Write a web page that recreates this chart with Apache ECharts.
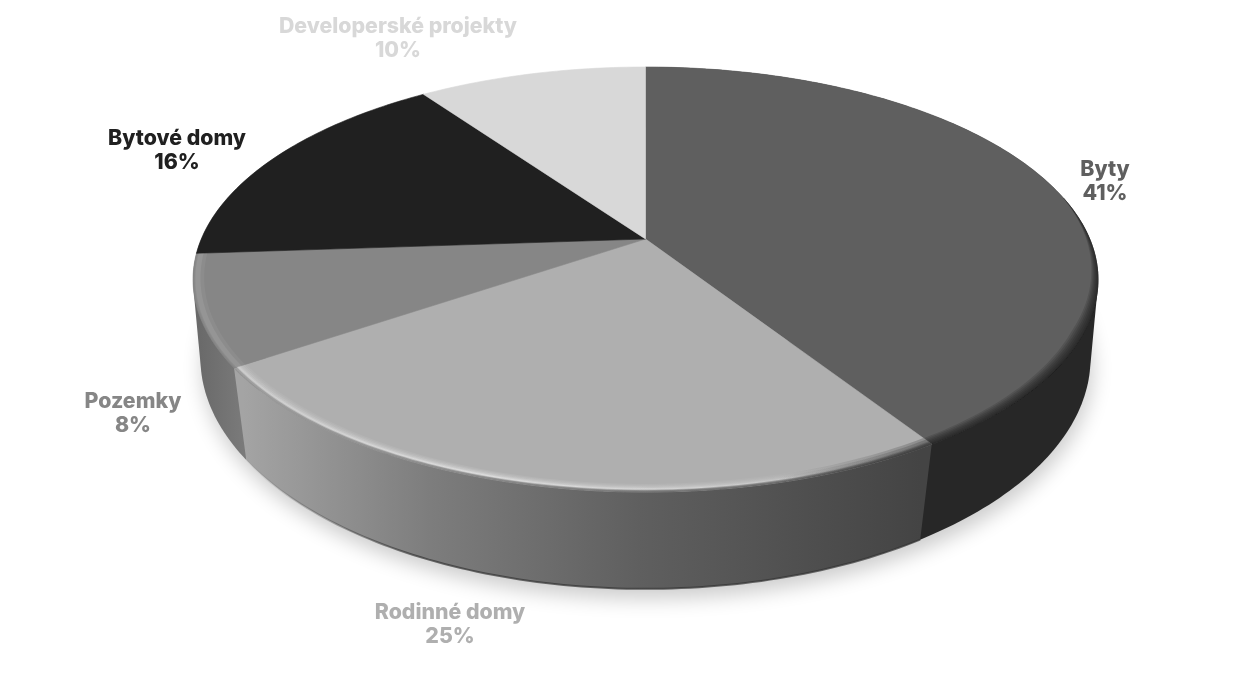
<!DOCTYPE html>
<html>
<head>
<meta charset="utf-8">
<style>html,body{margin:0;padding:0;background:#fff}#c{width:1242px;height:676px}</style>
<script src="https://cdn.jsdelivr.net/npm/echarts@6/dist/echarts.min.js"></script>
</head>
<body>
<div id="c"></div>
<script>
const categories = ['Byty', 'Rodinné domy', 'Pozemky', 'Bytové domy', 'Developerské projekty'];
const shares = [40.9, 24.6, 8.4, 16.3, 9.8];

const TOP_COLORS = ['#5f5f5f', '#afafaf', '#868686', '#202020', '#d8d8d8'];
const LABEL_POS = [[1105, 182], [450, 625], [133, 414], [177, 151], [398, 39]];
const TOP_PLANE = {cx: 645.5, cy: 239, rx: 444.2, ry: 204.8, k: 0.1906};
const BOTTOM_PLANE = {cx: 645.5, cy: 321, rx: 439.3, ry: 225, k: 0.16};
const FONT = '800 21.3px Inter, sans-serif';

const G = (x0, x1, stops) => new echarts.graphic.LinearGradient(x0, 0, x1, 0,
  stops.map(s => ({offset: (s[0] - x0) / (x1 - x0), color: s[1]})), true);

function project(plane, deg, r) {
  const t = deg * Math.PI / 180, u = r * Math.sin(t), v = -r * Math.cos(t), w = 1 - plane.k * v;
  return [plane.cx + plane.rx * u / w, plane.cy + plane.ry * v / w];
}
function arc(plane, a, b, r) {
  const n = Math.max(2, Math.ceil(Math.abs(b - a))), pts = [];
  const rf = typeof r === 'function' ? r : () => r;
  for (let i = 0; i <= n; i++) { const d = a + (b - a) * i / n; pts.push(project(plane, d, rf(d))); }
  return pts;
}
function hull(points) {
  const p = points.slice().sort((a, b) => a[0] - b[0] || a[1] - b[1]);
  const cross = (o, a, b) => (a[0] - o[0]) * (b[1] - o[1]) - (a[1] - o[1]) * (b[0] - o[0]);
  const lo = [], up = [];
  p.forEach(q => { while (lo.length > 1 && cross(lo[lo.length - 2], lo[lo.length - 1], q) <= 0) lo.pop(); lo.push(q); });
  p.slice().reverse().forEach(q => { while (up.length > 1 && cross(up[up.length - 2], up[up.length - 1], q) <= 0) up.pop(); up.push(q); });
  return lo.slice(0, -1).concat(up.slice(0, -1));
}
// ribbon between radius fn r0(deg) and the outer radius r1
function ribbon(a, b, r0, r1) {
  return arc(TOP_PLANE, a, b, r0).concat(arc(TOP_PLANE, b, a, r1));
}
const total = shares.reduce((a, b) => a + b, 0);
const spans = [];
shares.reduce((acc, s) => { spans.push([acc / total * 360, (acc + s) / total * 360]); return acc + s; }, 0);
const tableRows = categories.map((c, i) => [i, shares[i], c]);
const SIDE_ORDER = [0, 2, 1];

const sideFill = [
  '#272727',
  G(243, 920, [[243, '#a4a4a4'], [430, '#7d7d7d'], [640, '#5f5f5f'], [920, '#444444']]),
  G(195, 243, [[195, '#686868'], [243, '#7a7a7a']])
];

function renderShadow() {
  return {
    type: 'polygon',
    shape: {points: arc(BOTTOM_PLANE, 0, 360, 1)},
    style: {fill: '#d0d0d0', shadowBlur: 20, shadowColor: 'rgba(0,0,0,0.2)', shadowOffsetX: 2, shadowOffsetY: 10}
  };
}
function renderSide(params, api) {
  const i = api.value(0), sp = spans[i];
  const a = sp[0], b = i === 2 ? 300 : sp[1];
  const raw = arc(TOP_PLANE, a, b, 1).concat(arc(BOTTOM_PLANE, b, a, 1));
  const kids = [{type: 'polygon', shape: {points: i === 1 ? raw : hull(raw)}, style: {fill: sideFill[i]}}];
  if (i === 1) {
    kids.push({
      type: 'polyline', shape: {points: arc(BOTTOM_PLANE, sp[0], sp[1], 1)},
      style: {fill: null, lineWidth: 2, stroke: G(243, 920, [[243, 'rgba(50,50,50,0)'], [420, 'rgba(50,50,50,0.7)'], [920, 'rgba(50,50,50,0.7)']])}
    });
  }
  return {type: 'group', children: kids};
}
function renderTop(params, api) {
  const i = api.value(0), sp = spans[i];
  const pts = [project(TOP_PLANE, 0, 0)].concat(arc(TOP_PLANE, sp[0], sp[1], 1));
  return {type: 'polygon', shape: {points: pts}, style: {fill: TOP_COLORS[i], stroke: TOP_COLORS[i], lineWidth: 0.6}};
}
const taper = (inner, from, to) => d => 1 - (1 - inner) * Math.max(0, Math.min(1, (d - from) / (to - from)));
function renderRim(params, api) {
  const i = api.value(0), sp = spans[i], kids = [];
  const poly = (pts, fill) => kids.push({type: 'polygon', shape: {points: pts}, style: {fill}});
  if (i === 0) {
    [0.976, 0.98, 0.984, 0.988, 0.992, 0.996].forEach(r =>
      poly(ribbon(78, sp[1], taper(r, 78, 115), 1.001), 'rgba(25,25,25,0.17)'));
  } else if (i === 1) {
    const a = sp[0], b = sp[1];
    [[0.974, 0.05], [0.978, 0.06], [0.982, 0.09], [0.986, 0.13], [0.989, 0.16]].forEach(t =>
      poly(ribbon(a, b, t[0], 0.994), G(235, 927, [
        [235, `rgba(255,255,255,${t[1] * 0.9})`], [480, `rgba(255,255,255,${t[1] * 1.6})`],
        [700, `rgba(255,255,255,${t[1] * 1.1})`], [860, `rgba(255,255,255,${t[1] * 0.15})`], [927, 'rgba(255,255,255,0)']])));
    [0.992, 0.995, 0.998].forEach(r =>
      poly(ribbon(a, b, r, 1.001), G(235, 927, [[235, 'rgba(110,110,110,0.12)'], [500, 'rgba(90,90,90,0.22)'], [800, 'rgba(70,70,70,0.35)'], [927, 'rgba(60,60,60,0.5)']])));
    [0.975, 0.982, 0.989].forEach(r =>
      poly(ribbon(a, b, r, 1.001), G(235, 927, [[235, 'rgba(60,60,60,0)'], [780, 'rgba(60,60,60,0)'], [927, 'rgba(60,60,60,0.3)']])));
  } else if (i === 2) {
    poly(ribbon(sp[0], sp[1], 0.976, 0.997), 'rgba(255,255,255,0.05)');
    poly(ribbon(sp[0], sp[1], 0.984, 0.995), 'rgba(255,255,255,0.08)');
  }
  const pos = LABEL_POS[i];
  kids.push({
    type: 'text', z2: 10,
    style: {
      x: pos[0], y: pos[1], text: categories[i] + '\n' + Math.round(shares[i]) + '%',
      fill: TOP_COLORS[i], font: FONT, lineHeight: 24, align: 'center', verticalAlign: 'middle'
    }
  });
  return {type: 'group', children: kids};
}

const chart = echarts.init(document.getElementById('c'), null, {renderer: 'canvas'});
const custom = (renderItem, data, z) => ({
  type: 'custom', coordinateSystem: 'none', renderItem, data, z, silent: true, animation: false, clip: false
});
chart.setOption({
  backgroundColor: '#ffffff',
  animation: false,
  series: [
    custom(renderShadow, [[0, total, 'base']], 1),
    custom(renderSide, SIDE_ORDER.map(i => tableRows[i]), 2),
    custom(renderTop, tableRows, 3),
    custom(renderRim, tableRows, 4)
  ]
});
</script>
</body>
</html>
